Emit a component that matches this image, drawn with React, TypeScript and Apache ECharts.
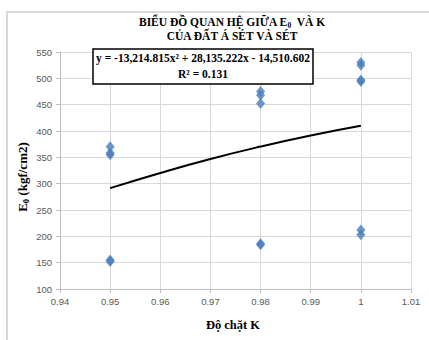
import React, { useEffect, useRef } from "react";
import * as echarts from "echarts";

const xTicks = [0.94, 0.95, 0.96, 0.97, 0.98, 0.99, 1.0, 1.01];
const yTicks = [100, 150, 200, 250, 300, 350, 400, 450, 500, 550];

const pointK = [0.95, 0.95, 0.95, 0.95, 0.95, 0.98, 0.98, 0.98, 0.98, 0.98, 1.0, 1.0, 1.0, 1.0, 1.0, 1.0];
const pointE0 = [370, 358, 355, 155, 152, 475, 468, 452, 186, 184, 530, 525, 497, 494, 212, 203];

const trendK = [0.95, 0.96, 0.97, 0.98, 0.99, 1.0];
const trendE0 = [291.5, 320.4, 346.9, 370.4, 391.4, 409.8];

const titleLine1 = ["BIỂU ĐỒ QUAN HỆ GIỮA E", "0", "  VÀ K"];
const titleLine2 = "CỦA ĐẤT Á SÉT VÀ SÉT";
const equation = "y = -13,214.815x² + 28,135.222x - 14,510.602";
const rSquared = "R² = 0.131";
const xName = "Độ chặt K";
const yName = ["E", "0", " (kgf/cm2)"];

const SERIF = "'Liberation Serif', 'Times New Roman', serif";
const SANS = "'Liberation Sans', Arial, sans-serif";

export default function App() {
  const ref = useRef<HTMLDivElement>(null);
  useEffect(() => {
    document.body.style.margin = "0";
    const chart = echarts.init(ref.current!, null, { renderer: "svg" });
    const fmt = (v: number) => String(Number(v.toFixed(2)));
    const richBase = {
      b: { fontFamily: SERIF, fontWeight: "bold", fontSize: 11.5, fill: "#000", lineHeight: 14 },
      s: { fontFamily: SERIF, fontWeight: "bold", fontSize: 7.5, fill: "#000", lineHeight: 14, padding: [7, 0, 0, 0] },
    };
    chart.setOption({
      animation: false,
      backgroundColor: "#ffffff",
      grid: { left: 60, right: 18, top: 52, bottom: 51 },
      xAxis: {
        type: "value",
        min: xTicks[0],
        max: xTicks[xTicks.length - 1],
        interval: 0.01,
        axisLine: { show: true, lineStyle: { color: "#bfbfbf", width: 1 } },
        axisTick: { show: true, length: 4, lineStyle: { color: "#bfbfbf" } },
        splitLine: { show: true, lineStyle: { color: "#d9d9d9", width: 1 } },
        axisLabel: { formatter: fmt, color: "#595959", fontFamily: SANS, fontSize: 9.5, margin: 7 },
      },
      yAxis: {
        type: "value",
        min: yTicks[0],
        max: yTicks[yTicks.length - 1],
        interval: 50,
        axisLine: { show: true, lineStyle: { color: "#bfbfbf", width: 1 } },
        axisTick: { show: true, length: 4, lineStyle: { color: "#bfbfbf" } },
        splitLine: { show: true, lineStyle: { color: "#d9d9d9", width: 1 } },
        axisLabel: { color: "#595959", fontFamily: SANS, fontSize: 9.5, margin: 8 },
      },
      series: [
        {
          type: "line",
          data: trendK.map((k, i) => [k, trendE0[i]]),
          smooth: true,
          showSymbol: false,
          lineStyle: { color: "#000000", width: 2 },
          z: 3,
        },
        {
          type: "scatter",
          data: pointK.map((k, i) => [k, pointE0[i]]),
          symbol: "diamond",
          symbolSize: [9, 11],
          itemStyle: { color: "#4a7ebb" },
          z: 4,
        },
      ],
      graphic: [
        {
          type: "rect",
          z: 0,
          silent: true,
          shape: { x: 7, y: 12, width: 440, height: 340 },
          style: { fill: "none", stroke: "#d9d9d9", lineWidth: 2 },
        },
        {
          type: "text",
          z: 100,
          x: 232,
          y: 15,
          style: {
            text: `{b|${titleLine1[0]}}{s|${titleLine1[1]}}{b|${titleLine1[2]}}`,
            rich: richBase,
            textAlign: "center",
            textVerticalAlign: "top",
          },
        },
        {
          type: "text",
          z: 100,
          x: 232,
          y: 30,
          style: {
            text: titleLine2,
            fontFamily: SERIF,
            fontWeight: "bold",
            fontSize: 11.5,
            fill: "#000",
            textAlign: "center",
            textVerticalAlign: "top",
          },
        },
        {
          type: "rect",
          z: 100,
          shape: { x: 93, y: 49, width: 220, height: 35 },
          style: { fill: "#ffffff", stroke: "#000000", lineWidth: 1.5 },
        },
        {
          type: "text",
          z: 101,
          x: 203,
          y: 52,
          style: {
            text: equation,
            fontFamily: SERIF,
            fontWeight: "bold",
            fontSize: 11.5,
            fill: "#000",
            textAlign: "center",
            textVerticalAlign: "top",
          },
        },
        {
          type: "text",
          z: 101,
          x: 203,
          y: 68,
          style: {
            text: rSquared,
            fontFamily: SERIF,
            fontWeight: "bold",
            fontSize: 11.5,
            fill: "#000",
            textAlign: "center",
            textVerticalAlign: "top",
          },
        },
        {
          type: "text",
          z: 100,
          x: 233,
          y: 318,
          style: {
            text: xName,
            fontFamily: SERIF,
            fontWeight: "bold",
            fontSize: 12.5,
            fill: "#000",
            textAlign: "center",
            textVerticalAlign: "top",
          },
        },
        {
          type: "text",
          z: 100,
          x: 14,
          y: 177,
          rotation: Math.PI / 2,
          style: {
            text: `{b|${yName[0]}}{s|${yName[1]}}{b|${yName[2]}}`,
            rich: {
              b: { fontFamily: SERIF, fontWeight: "bold", fontSize: 13, fill: "#000", lineHeight: 16 },
              s: { fontFamily: SERIF, fontWeight: "bold", fontSize: 8.5, fill: "#000", lineHeight: 16, padding: [7, 0, 0, 0] },
            },
            textAlign: "center",
            textVerticalAlign: "top",
          },
        },
      ],
    });
    return () => chart.dispose();
  }, []);
  return <div ref={ref} style={{ width: 429, height: 340 }} />;
}
